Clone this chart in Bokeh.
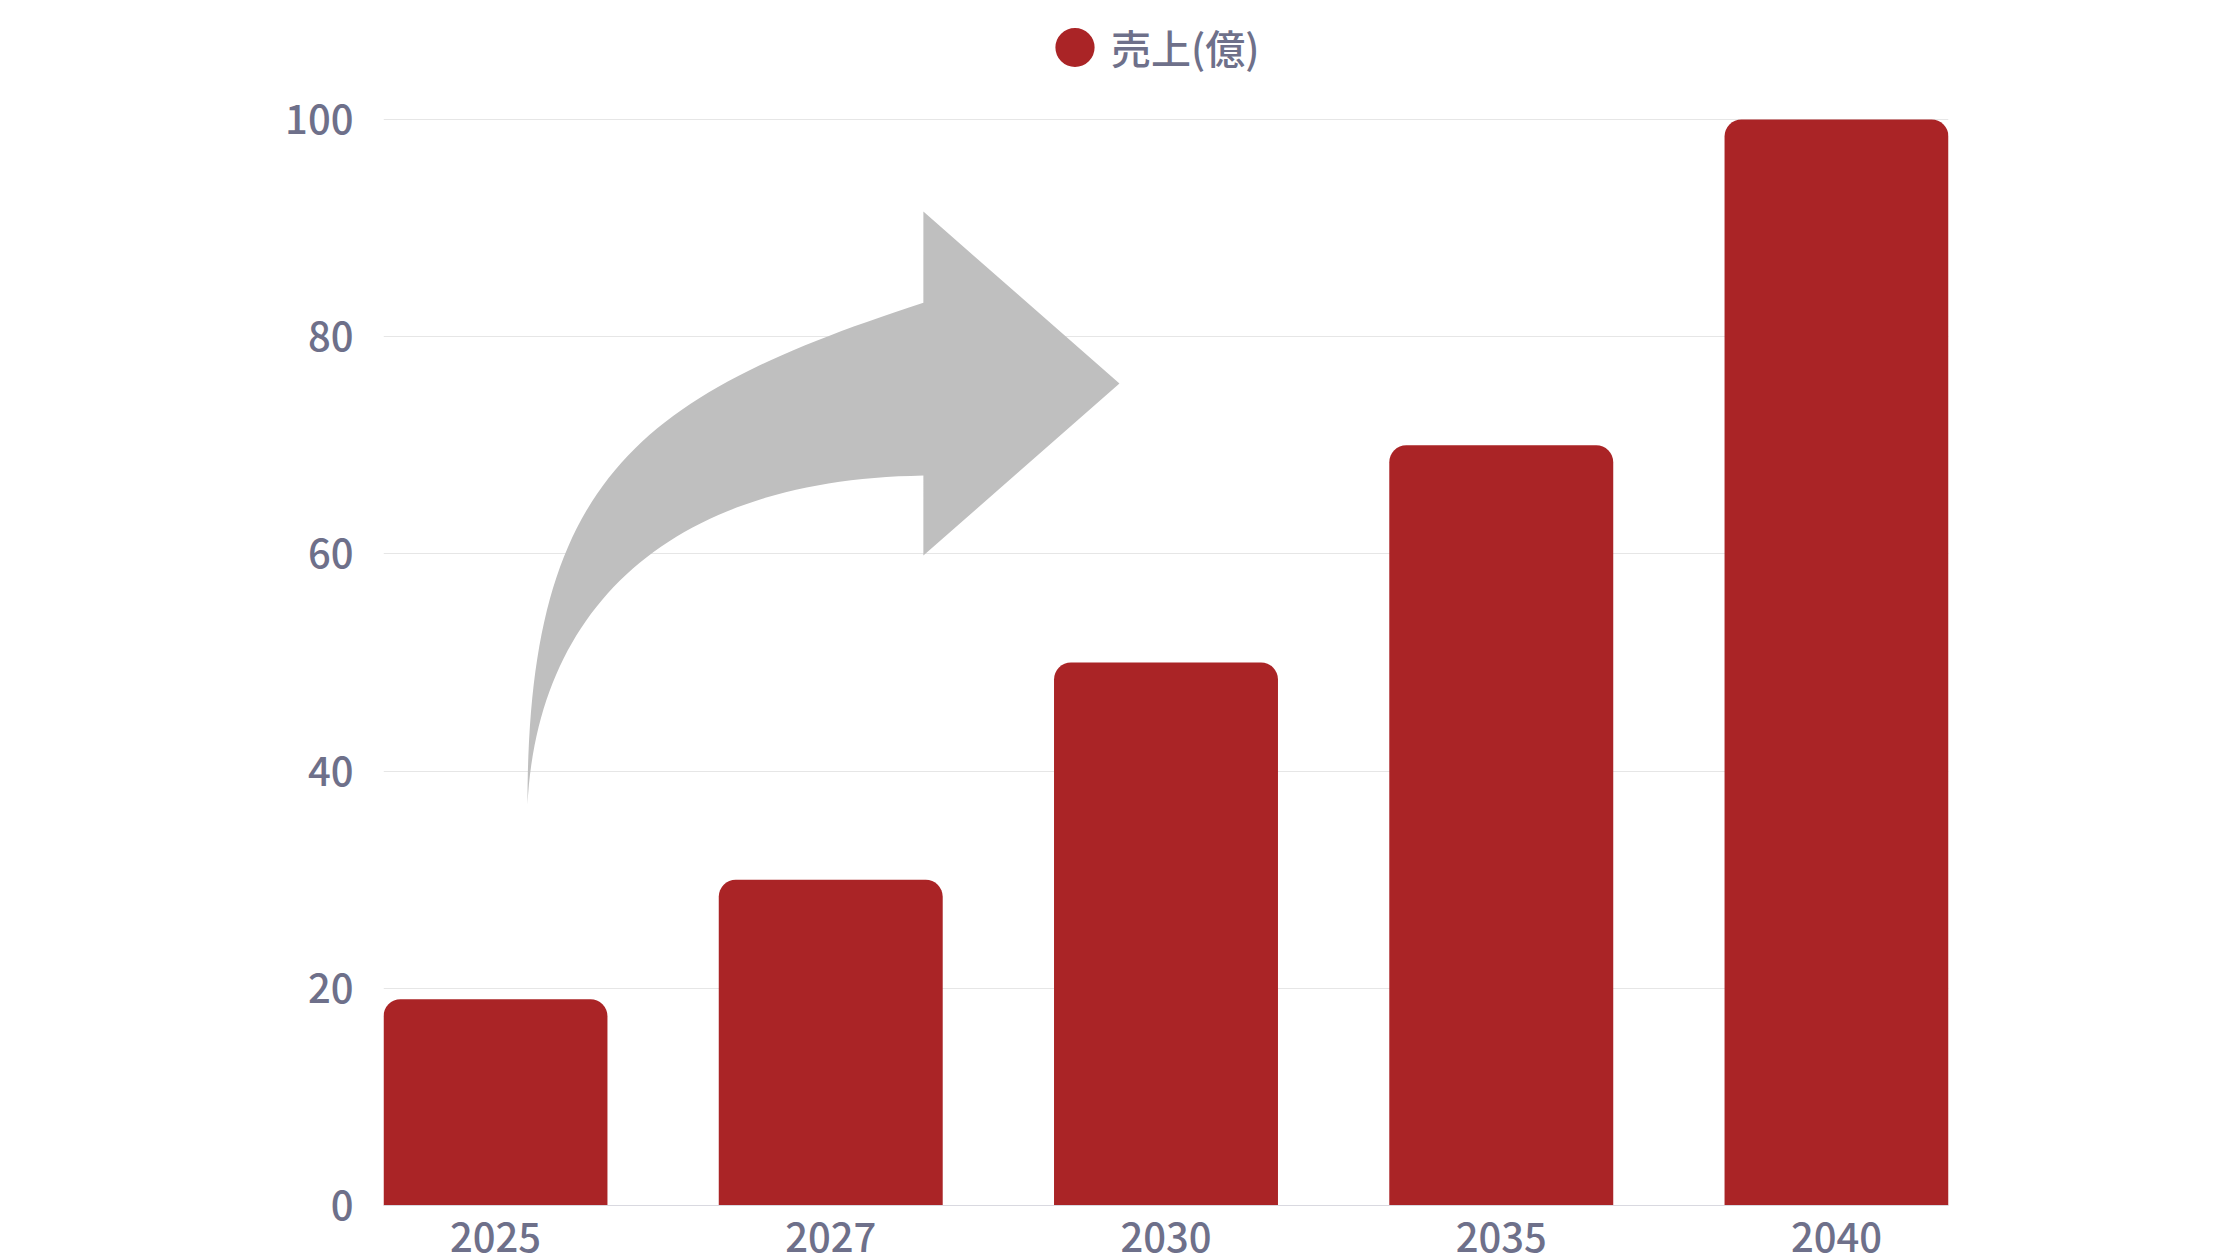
import numpy as np
from bokeh.plotting import figure
from bokeh.models import FixedTicker, Legend, LegendItem, ColumnDataSource, Range1d
from bokeh.embed import file_html
from bokeh.resources import INLINE

# ---- data ----
years = ["2025", "2027", "2030", "2035", "2040"]
sales = [19, 30, 50, 70, 100]
y_ticks = [0, 20, 40, 60, 80, 100]
series_name = "売上(億)"

BAR_COLOR = "#aa2426"
TEXT_COLOR = "#6e708a"
ARROW_COLOR = "#bfbfbf"
FONT = "Noto Sans CJK JP Medium"

idx = list(range(len(years)))
bar_w = 0.668

# frame spans from the canvas top to the x axis; y range extends above 100
# so that the legend sits inside the frame
p = figure(width=2240, height=1260,
           x_range=Range1d(-bar_w / 2, len(years) - 1 + bar_w / 2),
           y_range=Range1d(0, 110.958),
           output_backend="svg", toolbar_location=None,
           min_border_left=383, min_border_right=292,
           min_border_top=0, min_border_bottom=55)
p.outline_line_color = None
p.background_fill_color = "white"
p.border_fill_color = "white"

# ---- decorative curved arrow (cubic Bezier outline, data units) ----
def cubic(P0, P1, P2, P3, n=60):
    t = np.linspace(0, 1, n)[:, None]
    P0, P1, P2, P3 = map(np.array, (P0, P1, P2, P3))
    return (1 - t) ** 3 * P0 + 3 * (1 - t) ** 2 * t * P1 + 3 * (1 - t) * t ** 2 * P2 + t ** 3 * P3

tail = (0.0954, 36.92)
base_x = 1.2763
outer = cubic(tail, (0.0954, 66.90), (0.4230, 74.57), (base_x, 83.12))
inner = cubic(tail, (0.1262, 55.44), (0.5342, 66.90), (base_x, 67.21))
head = np.array([(base_x, 91.52), (1.8612, 75.68), (base_x, 59.85)])
poly = np.vstack([outer, head, inner[::-1]])
p.patch(poly[:, 0], poly[:, 1], fill_color=ARROW_COLOR, line_color=None)

# ---- bars ----
src = ColumnDataSource(dict(x=idx, top=sales, year=years))
p.vbar(x="x", top="top", width=bar_w, bottom=0, source=src,
       fill_color=BAR_COLOR, line_color=None, border_radius=(17, 17, 0, 0))

# ---- axes ----
p.xaxis.ticker = FixedTicker(ticks=idx)
p.xaxis.major_label_overrides = {i: y for i, y in zip(idx, years)}
p.yaxis.ticker = FixedTicker(ticks=y_ticks)
for ax in (p.xaxis, p.yaxis):
    ax.major_tick_line_color = None
    ax.minor_tick_line_color = None
    ax.major_label_text_font = FONT
    ax.major_label_text_font_size = "40px"
    ax.major_label_text_color = TEXT_COLOR
p.xaxis.axis_line_color = "#d9d9e0"
p.xaxis.axis_line_width = 1
p.yaxis.axis_line_color = None
p.xaxis.major_label_standoff = 11
p.yaxis.major_label_standoff = 24
p.xgrid.grid_line_color = None
p.ygrid.ticker = FixedTicker(ticks=y_ticks)
p.ygrid.grid_line_color = "#e6e6e6"

# ---- legend (round key: an ellipse renderer of negligible on-screen size) ----
key = p.ellipse(x="x", y="top", width=1e-6, height=1e-6,
                width_units="screen", height_units="screen", source=src,
                fill_color=BAR_COLOR, line_color=None)
legend = Legend(items=[LegendItem(label=series_name, renderers=[key])],
                location=(667, 1128), orientation="horizontal",
                glyph_width=49, glyph_height=60, label_standoff=12,
                padding=0, margin=0, border_line_color=None, background_fill_alpha=0,
                label_text_font=FONT, label_text_font_size="40px",
                label_text_color=TEXT_COLOR)
p.add_layout(legend, "center")

open("out.html", "w").write(file_html(p, INLINE))
